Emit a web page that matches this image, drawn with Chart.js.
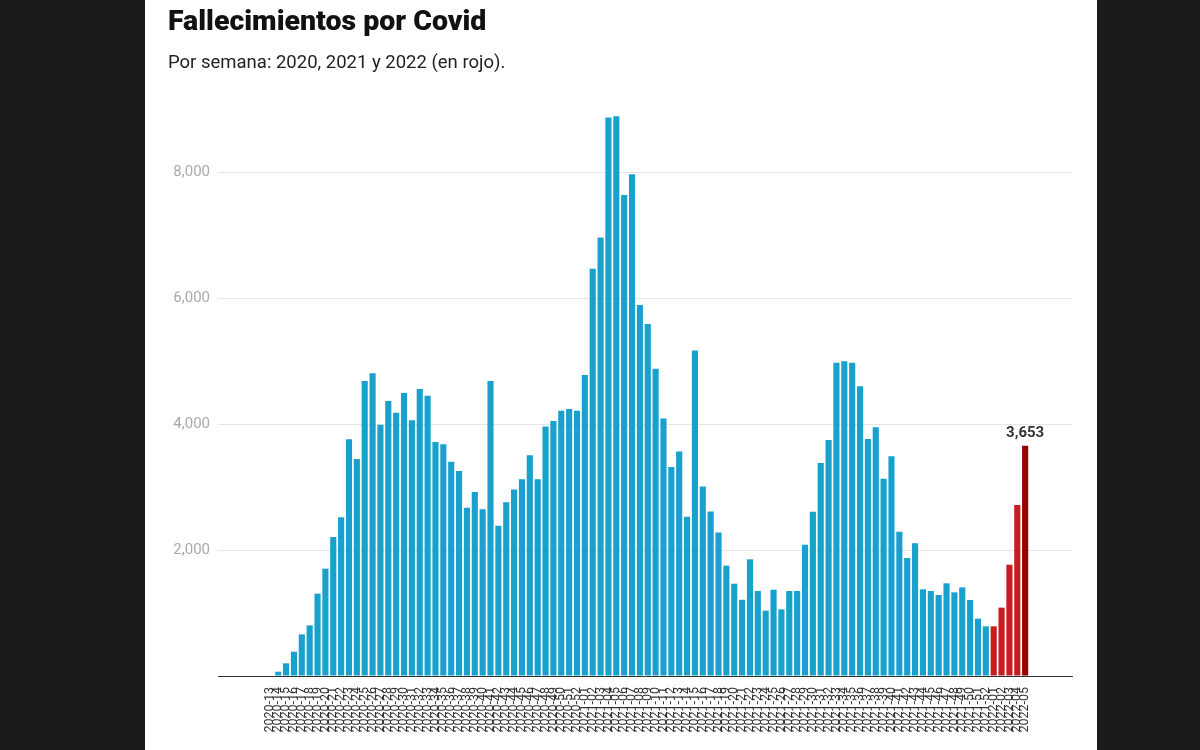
<!DOCTYPE html>
<html>
<head>
<meta charset="utf-8">
<script src="https://cdn.jsdelivr.net/npm/chart.js@4.4.1/dist/chart.umd.min.js"></script>
<style>
  html, body { margin:0; padding:0; width:1200px; height:750px; background:#1b1b1b; overflow:hidden; }
  #panel { position:absolute; left:145px; top:0; width:952px; height:750px; background:#fff; }
  #title { position:absolute; left:23px; top:7px; font-family:Roboto, sans-serif; font-weight:900; font-size:28.5px; line-height:1; color:#111; white-space:nowrap; }
  #subtitle { position:absolute; left:23px; top:53px; font-family:Roboto, sans-serif; font-weight:400; font-size:18.5px; line-height:1; color:#222; white-space:nowrap; }
  #wrap { position:absolute; left:0; top:0; width:952px; height:750px; }
</style>
</head>
<body>
<div id="panel">
  <div id="wrap"><canvas id="c" width="952" height="750"></canvas></div>
  <div id="title">Fallecimientos por Covid</div>
  <div id="subtitle">Por semana: 2020, 2021 y 2022 (en rojo).</div>
</div>
<script>
// ---- data ----
const weeks2020 = [];
for (let w = 13; w <= 52; w++) weeks2020.push('2020-' + String(w).padStart(2, '0'));
const weeks2021 = [];
for (let w = 1; w <= 52; w++) weeks2021.push('2021-' + String(w).padStart(2, '0'));
const weeks2022 = ['2022-01', '2022-02', '2022-03', '2022-04', '2022-05'];
const categories = weeks2020.concat(weeks2021, weeks2022);

const deaths2020 = [0, 68, 201, 386, 661, 804, 1307, 1704, 2206, 2519,
  3757, 3444, 4682, 4804, 3989, 4365, 4180, 4492, 4058, 4555,
  4450, 3714, 3677, 3402, 3254, 2672, 2921, 2646, 4682, 2383,
  2756, 2961, 3124, 3504, 3124, 3960, 4047, 4211, 4240, 4211];
const deaths2021 = [4777, 6465, 6961, 8865, 8883, 7633, 7966, 5887, 5589, 4876,
  4088, 3317, 3562, 2529, 5168, 3008, 2610, 2278, 1752, 1465,
  1210, 1852, 1349, 1037, 1370, 1058, 1349, 1349, 2085, 2608,
  3381, 3746, 4974, 4995, 4974, 4598, 3762, 3947, 3132, 3487,
  2291, 1873, 2106, 1376, 1349, 1286, 1471, 1328, 1407, 1206,
  910, 788];
const deaths2022 = [788, 1085, 1767, 2714, 3653];
const values = deaths2020.concat(deaths2021, deaths2022);

const yTicks = [2000, 4000, 6000, 8000];

// ---- styles ----
const BLUE = '#18a1cd', RED = '#c91d1d', DARKRED = '#960000';
const barColors = categories.map((c, i) =>
  i === categories.length - 1 ? DARKRED : (c.startsWith('2022') ? RED : BLUE));

const valueLabel = {
  id: 'valueLabel',
  afterDatasetsDraw(chart) {
    const meta = chart.getDatasetMeta(0);
    const i = values.length - 1;
    const el = meta.data[i];
    const ctx = chart.ctx;
    ctx.save();
    ctx.font = 'bold 15px Roboto, sans-serif';
    ctx.fillStyle = '#333';
    ctx.textAlign = 'center';
    ctx.textBaseline = 'alphabetic';
    ctx.fillText(values[i].toLocaleString('en-US'), el.x, el.y - 9);
    ctx.restore();
  }
};

new Chart(document.getElementById('c'), {
  type: 'bar',
  data: {
    datasets: [{
      data: values.map((v, i) => ({ x: i, y: v })),
      backgroundColor: barColors,
      borderWidth: 0,
      barPercentage: 0.78,
      categoryPercentage: 1
    }]
  },
  plugins: [valueLabel],
  options: {
    responsive: false,
    animation: false,
    layout: { padding: { top: 109, right: 25, left: 0, bottom: 0 } },
    plugins: { legend: { display: false }, tooltip: { enabled: false }, title: { display: false } },
    scales: {
      x: {
        type: 'linear',
        min: -6.1,
        max: 101.4,
        grid: { display: false, drawTicks: false },
        border: { display: true, color: '#333', width: 1 },
        afterBuildTicks: s => { s.ticks = categories.map((c, i) => ({ value: i })); },
        afterFit: s => { s.height = 74; },
        ticks: {
          autoSkip: false,
          maxRotation: 90,
          minRotation: 90,
          padding: 11,
          color: '#333',
          font: { family: 'Roboto', size: 12.5 },
          callback: v => categories[v] ?? ''
        }
      },
      y: {
        min: 0,
        max: 9000,
        afterBuildTicks: s => { s.ticks = [0].concat(yTicks).map(v => ({ value: v })); },
        afterFit: s => { s.width = 73; },
        grid: {
          drawTicks: false,
          color: c => (c.tick && c.tick.value === 0) ? 'rgba(0,0,0,0)' : '#e6e6e6',
          lineWidth: 1
        },
        border: { display: false },
        ticks: {
          padding: 8,
          color: '#aaa',
          font: { family: 'Roboto', size: 15 },
          callback: v => v === 0 ? '' : v.toLocaleString('en-US')
        }
      }
    }
  }
});
</script>
</body>
</html>
